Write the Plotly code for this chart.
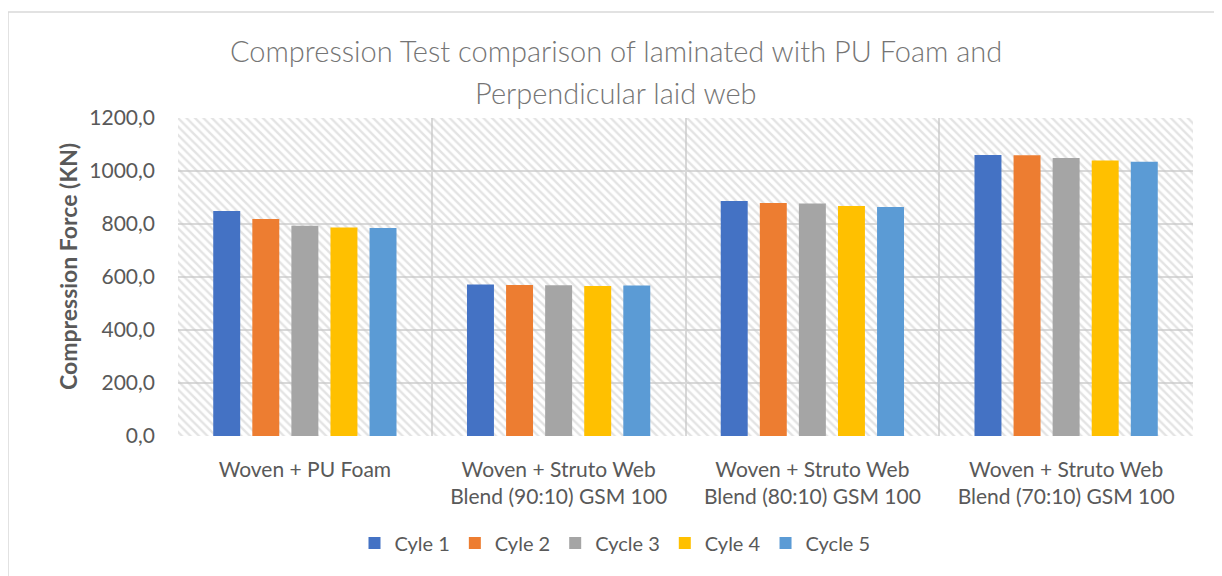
import plotly.graph_objects as go

categories = [
    "Woven + PU Foam",
    "Woven + Struto Web<br>Blend (90:10) GSM 100",
    "Woven + Struto Web<br>Blend (80:10) GSM 100",
    "Woven + Struto Web<br>Blend (70:10) GSM 100",
]
series_names = ["Cyle 1", "Cyle 2", "Cycle 3", "Cyle 4", "Cycle 5"]
cycle1 = [849, 572, 887, 1060]
cycle2 = [819, 570, 879, 1059]
cycle3 = [793, 569, 877, 1049]
cycle4 = [787, 566, 868, 1040]
cycle5 = [785, 568, 864, 1035]
series_values = [cycle1, cycle2, cycle3, cycle4, cycle5]
colors = ["#4472C4", "#ED7D31", "#A5A5A5", "#FFC000", "#5B9BD5"]
y_ticks = [0, 200, 400, 600, 800, 1000, 1200]

FONT = "Lato"
TXT = "#595959"
GRID = "#d9d9d9"

fig = go.Figure()

# hatched plot-area background on base axes
fig.add_trace(go.Scatter(
    x=[0, 1, 1, 0, 0], y=[0, 0, 1, 1, 0], mode="none", fill="toself",
    fillcolor="rgba(0,0,0,0)",
    fillpattern=dict(shape="\\", fgcolor="#c8c8c8", bgcolor="rgba(255,255,255,0)",
                     size=6, solidity=0.4, fillmode="overlay"),
    hoverinfo="skip", showlegend=False, xaxis="x", yaxis="y",
))

for name, vals, col in zip(series_names, series_values, colors):
    fig.add_trace(go.Bar(
        x=categories, y=vals, name=name, marker=dict(color=col, line=dict(width=0)),
        xaxis="x2", yaxis="y2",
    ))

fig.update_layout(
    width=1222, height=576,
    margin=dict(l=170, r=37, t=110, b=148),
    paper_bgcolor="white", plot_bgcolor="white",
    separators=",.",
    barmode="group", bargap=0.23, bargroupgap=0.31,
    font=dict(family=FONT, color=TXT),
    xaxis=dict(range=[0, 1], visible=False, fixedrange=True),
    yaxis=dict(range=[0, 1], visible=False, fixedrange=True),
    xaxis2=dict(overlaying="x", anchor="y2", side="bottom", type="category",
                range=[-0.5, 3.5], showgrid=True, gridcolor=GRID, gridwidth=1.5,
                tickson="boundaries", ticks="", showline=False, zeroline=False,
                ticklabelstandoff=19,
                tickfont=dict(size=21, color=TXT, family=FONT)),
    yaxis2=dict(overlaying="y", anchor="x2", side="left", range=[0, 1200],
                tickvals=y_ticks, tickformat=".1f", showgrid=True,
                gridcolor=GRID, gridwidth=1.5, zeroline=False, ticks="",
                ticklabelstandoff=22,
                tickfont=dict(size=21, color=TXT, family=FONT)),
    legend=dict(orientation="h", x=(615 - 178) / 1015, xanchor="center",
                y=(436 - 543) / 318, yanchor="middle",
                font=dict(size=20, color=TXT, family=FONT), itemwidth=30,
                traceorder="normal"),
    showlegend=True,
)

# title
TITLE_FONT = dict(size=29, color="#757575", family=FONT, weight=300)
fig.add_annotation(text="Compression Test comparison of laminated with PU Foam and",
                   xref="paper", yref="paper", x=(616 - 178) / 1015, y=1 + (118 - 50) / 318,
                   showarrow=False, xanchor="center", yanchor="middle", font=TITLE_FONT)
fig.add_annotation(text="Perpendicular laid web",
                   xref="paper", yref="paper", x=(616 - 178) / 1015, y=1 + (118 - 92) / 318,
                   showarrow=False, xanchor="center", yanchor="middle", font=TITLE_FONT)
# y-axis title
fig.add_annotation(text="<b>Compression Force (KN)</b>", textangle=-90,
                   xref="paper", yref="paper", x=(68 - 178) / 1015, y=(436 - 267) / 318,
                   showarrow=False, xanchor="center", yanchor="middle",
                   font=dict(size=23, color=TXT, family=FONT))

# outer chart border (left and top edges visible)
fig.add_shape(type="line", xref="paper", yref="paper",
              x0=(8 - 178) / 1015, x1=(8 - 178) / 1015,
              y0=1 + (118 - 12) / 318, y1=(436 - 590) / 318,
              line=dict(color=GRID, width=1.5))
fig.add_shape(type="line", xref="paper", yref="paper",
              x0=(8 - 178) / 1015, x1=(1240 - 178) / 1015,
              y0=1 + (118 - 12) / 318, y1=1 + (118 - 12) / 318,
              line=dict(color=GRID, width=1.5))

fig.write_html("out.html")
